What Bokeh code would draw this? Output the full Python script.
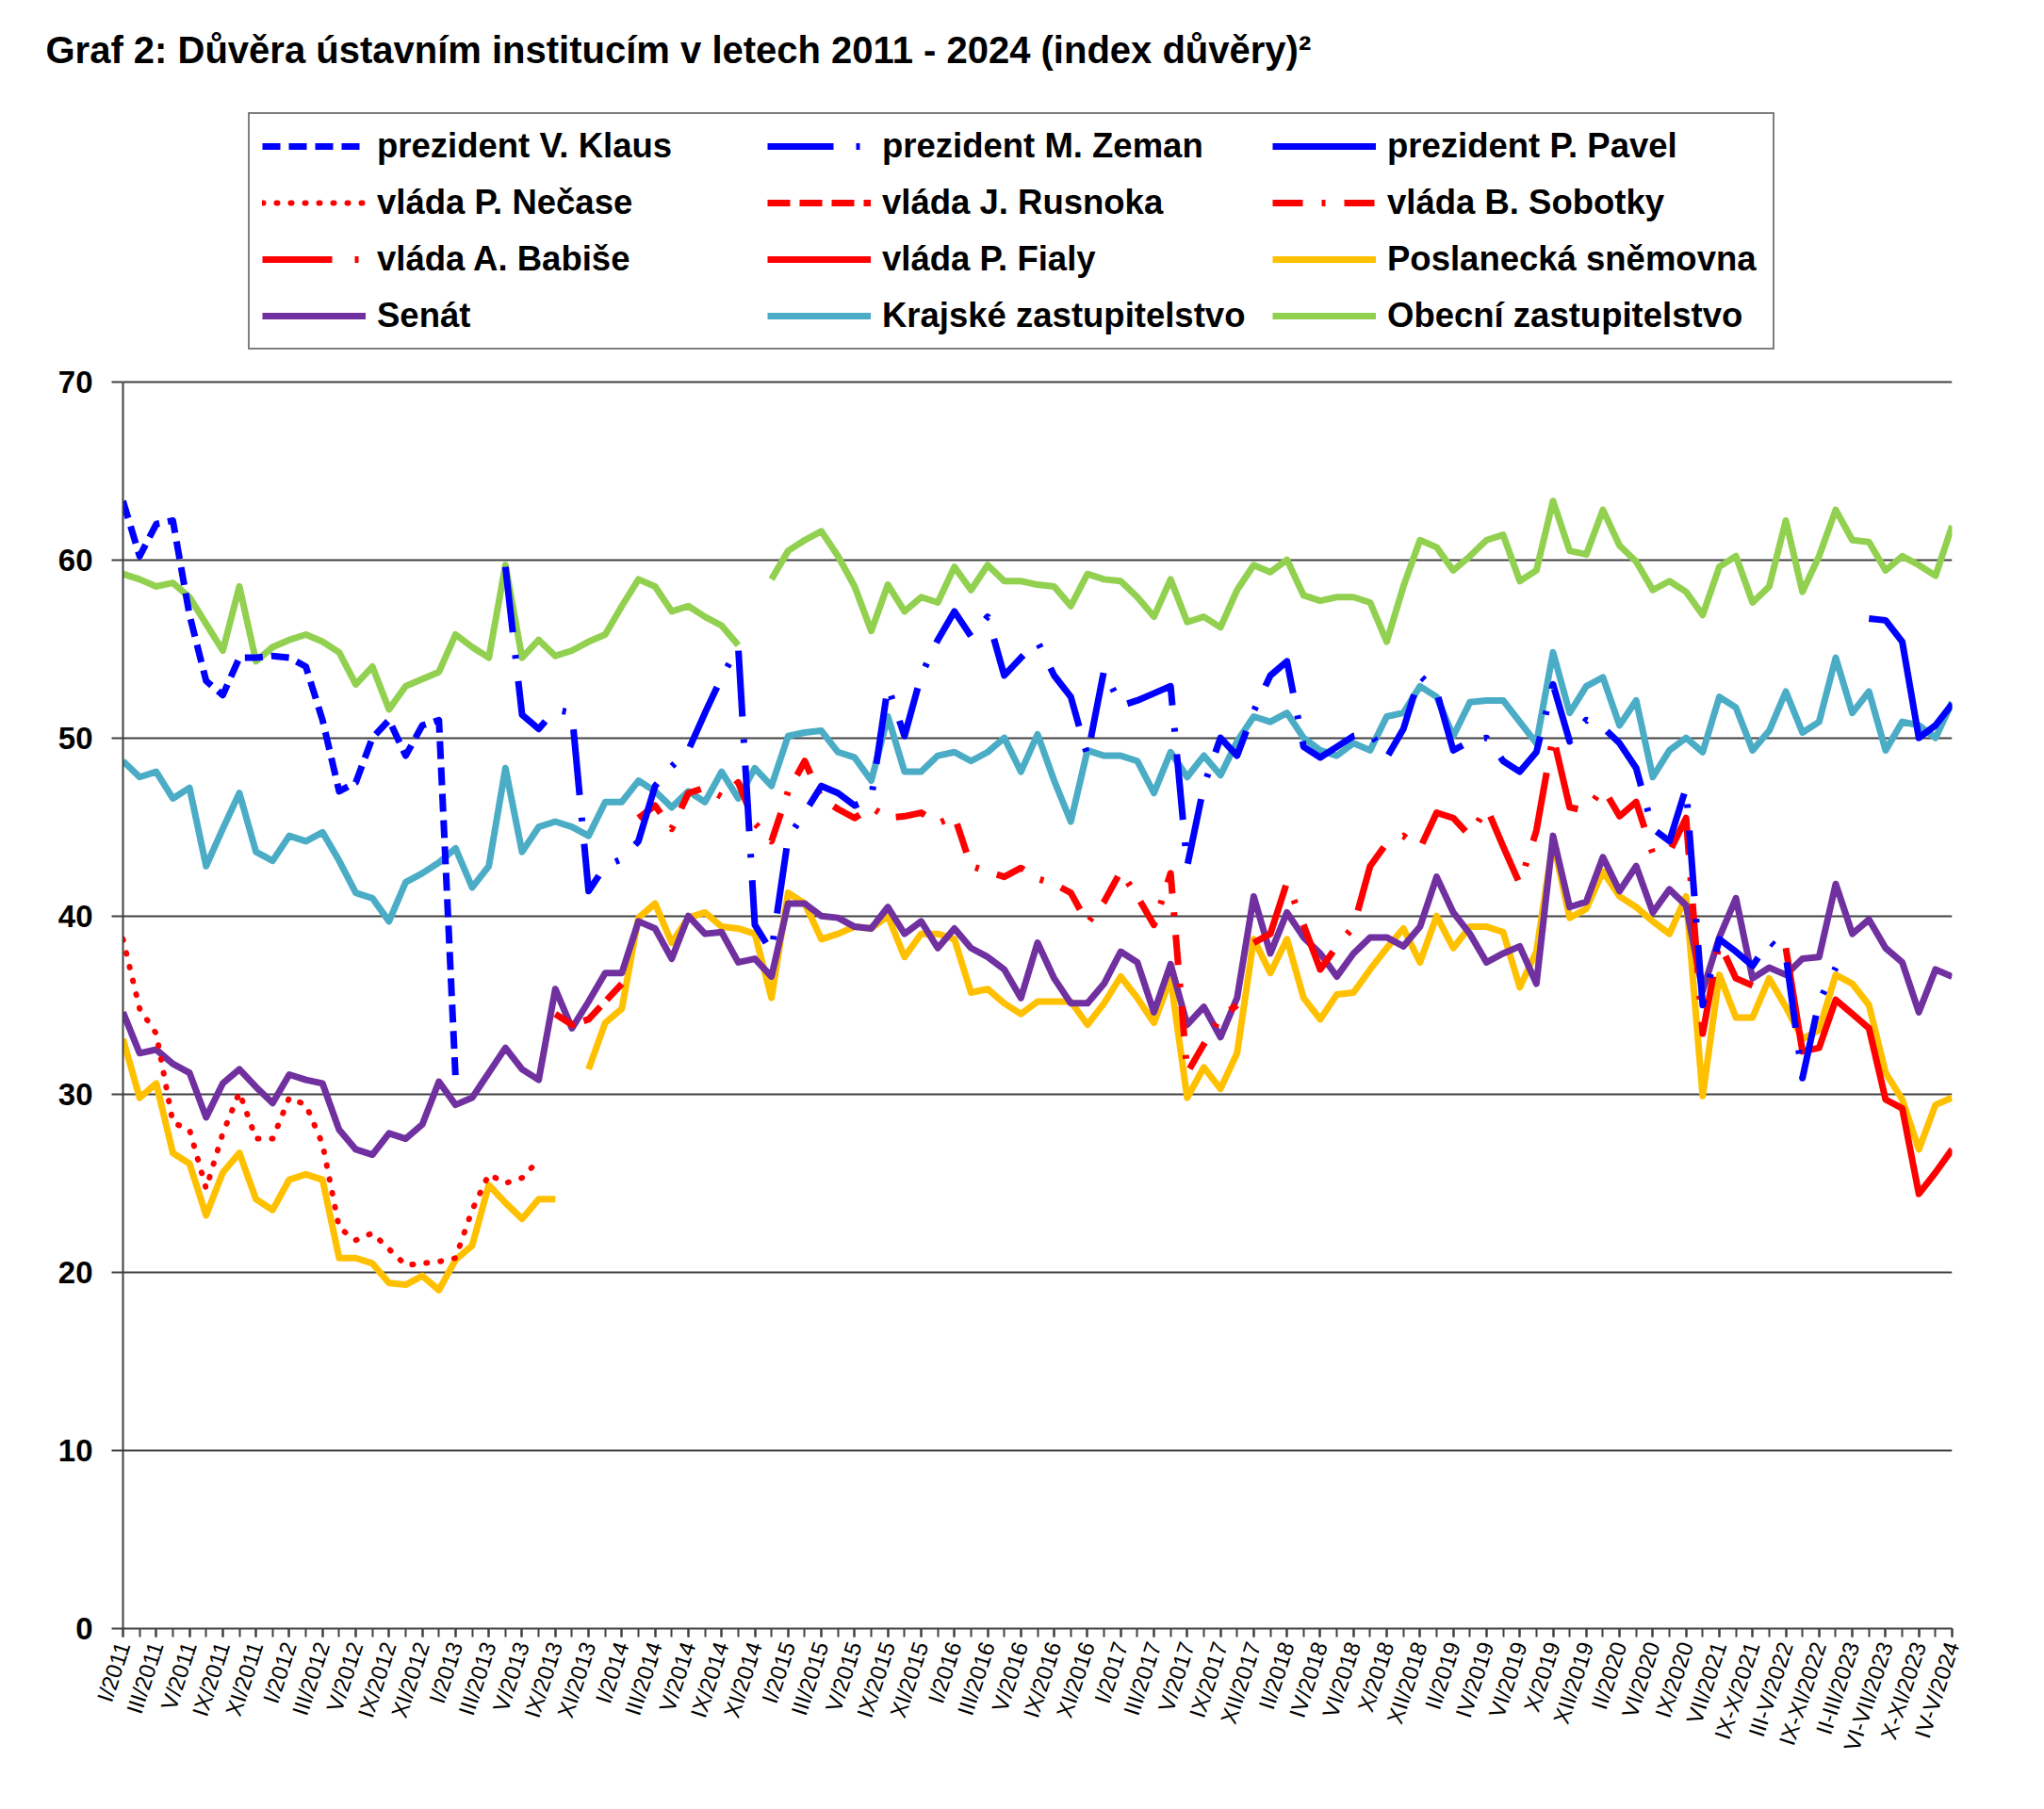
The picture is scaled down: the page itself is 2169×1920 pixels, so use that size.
import math
from bokeh.plotting import figure
from bokeh.models import Range1d, FixedTicker, Legend, LegendItem, Title
from bokeh.embed import file_html
from bokeh.resources import INLINE

NaN = float("nan")

# --- survey periods (one per category on the x axis) ---
months10 = ["I", "II", "III", "IV", "V", "VI", "IX", "X", "XI", "XII"]
periods = []
for yr in range(2011, 2017):
    periods += [f"{m}/{yr}" for m in months10]
periods += [f"{m}/2017" for m in ["I", "II", "III", "IV", "V", "VI", "IX", "X", "XII"]]
periods += [f"{m}/2018" for m in months10]
periods += [f"{m}/2019" for m in months10]
periods += ["I/2020", "II/2020", "V/2020", "VI/2020", "VIII/2020", "IX/2020",
            "V-VI/2021", "VII/2021", "VIII/2021", "IX-X/2021", "XI-XII/2021",
            "III-V/2022", "VI-VII/2022", "IX-XI/2022", "XII-I/2023", "II-III/2023",
            "IV-V/2023", "VI-VII/2023", "VIII-IX/2023", "X-XI/2023", "I-III/2024",
            "IV-V/2024"]

N = len(periods)


def series(start, values):
    """Place a run of values starting at period index `start`; other periods are empty."""
    out = [NaN] * N
    for k, v in enumerate(values):
        out[start + k] = NaN if v is None else v
    return out


# --- trust index values ---
klaus = series(0, [63.3, 60.2, 62.0, 62.2, 56.9, 53.2, 52.4, 54.5, 54.5, 54.6,
                   54.5, 54.0, 51.0, 47.0, 47.5, 50.0, 51.0, 49.0, 50.7, 51.0,
                   30.9])
zeman = series(23, [59.6, 51.3, 50.5, 51.6, 51.4, 41.4, 42.8, 43.2, 44.2, 47.3,
                    48.4, 49.3, 51.4, 53.4, 55.1, 39.5, 38.0, 44.4, 45.8, 47.3,
                    46.9, 46.2, 46.6, 52.9, 50.1, 53.5, 55.5, 57.1, 55.7, 56.8,
                    53.5, 54.5, 55.4, 53.5, 52.3, 49.0, 53.8, 51.8, 52.1, 52.5,
                    52.9, 42.8, 47.3, 50.0, 49.0, 51.5, 53.5, 54.3, 49.5, 48.9,
                    49.5, 50.1, 50.3, 48.9, 50.5, 53.5, 52.6, 49.3, 49.8, 50.0,
                    48.7, 48.1, 49.2, 53.0, 49.8, 51.0, 50.6, 49.7, 48.3, 44.9,
                    44.2, 47.2, 35.0, 38.7, 38.0, 37.2, 38.6, 37.8, 30.9, 35.2,
                    37.1])
pavel = series(105, [56.7, 56.6, 55.4, 50.0, 50.7, 51.9])

necas = series(0, [38.7, 34.8, 33.4, 28.4, 28.0, 24.7, 27.8, 30.1, 27.5, 27.5,
                   29.8, 29.4, 27.2, 22.5, 21.8, 22.2, 21.3, 20.4, 20.5, 20.6,
                   20.8, 23.5, 25.5, 25.0, 25.3, 26.3])
rusnok = series(26, [34.5, 33.9, 34.2, 35.2, 36.2])
sobotka = series(31, [45.5, 46.2, 44.9, 46.9, 47.2, 46.7, 47.5, 45.2, 44.2, 47.0,
                      48.7, 46.6, 46.0, 45.5, 46.1, 45.5, 45.6, 45.8, 45.2, 45.6,
                      42.8, 42.5, 42.2, 42.7, 42.1, 41.8, 41.3, 39.6, 40.8, 42.5,
                      41.1, 39.5, 42.4, 31.2, 32.8, 34.3, 35.0])
babis = series(68, [38.5, 39.0, 41.9, 39.5, 37.0, 38.3, 39.4, 42.8, 44.1, 44.5,
                    43.8, 45.8, 45.5, 44.5, 46.1, 43.9, 41.8, 44.8, 50.1, 46.1,
                    45.9, 47.2, 45.6, 46.4, 43.5, 43.6, 45.5, 33.4, 38.5, 36.5,
                    36.1])
fiala = series(100, [38.2, 32.4, 32.6, 35.3, 34.5, 33.7, 29.7, 29.2, 24.4, 25.6,
                     26.9])

snemovna = series(0, [33.1, 29.8, 30.6, 26.7, 26.1, 23.2, 25.6, 26.7, 24.1, 23.5,
                      25.2, 25.5, 25.2, 20.8, 20.8, 20.5, 19.4, 19.3, 19.8, 19.0,
                      20.7, 21.5, 24.9, 23.9, 23.0, 24.1, 24.1, None, 31.4, 34.0,
                      34.8, 39.9, 40.7, 38.5, 39.9, 40.2, 39.4, 39.3, 39.0, 35.4,
                      41.3, 40.7, 38.7, 39.0, 39.4, 39.3, 40.0, 37.7, 39.0, 39.0,
                      38.7, 35.7, 35.9, 35.1, 34.5, 35.2, 35.2, 35.2, 33.9, 35.1,
                      36.6, 35.4, 34.0, 36.5, 29.8, 31.5, 30.3, 32.3, 38.7, 36.8,
                      38.7, 35.4, 34.2, 35.6, 35.7, 37.0, 38.2, 39.3, 37.4, 40.0,
                      38.2, 39.4, 39.4, 39.1, 36.0, 38.0, 44.2, 39.9, 40.4, 42.5,
                      41.1, 40.5, 39.7, 39.0, 41.1, 29.9, 36.7, 34.3, 34.3, 36.5,
                      34.9, 33.1, 33.6, 36.7, 36.2, 35.0, 31.2, 29.7, 26.9, 29.4,
                      29.8])
senat = series(0, [34.6, 32.3, 32.5, 31.7, 31.2, 28.7, 30.6, 31.4, 30.4, 29.5,
                   31.1, 30.8, 30.6, 28.0, 26.9, 26.6, 27.8, 27.5, 28.3, 30.7,
                   29.4, 29.8, 31.2, 32.6, 31.4, 30.8, 35.9, 33.7, 35.2, 36.8,
                   36.8, 39.7, 39.3, 37.6, 40.0, 39.0, 39.1, 37.4, 37.6, 36.6,
                   40.7, 40.7, 40.0, 39.9, 39.4, 39.3, 40.5, 39.0, 39.7, 38.2,
                   39.3, 38.2, 37.7, 37.0, 35.4, 38.5, 36.5, 35.1, 35.1, 36.2,
                   38.0, 37.4, 34.6, 37.3, 33.9, 34.9, 33.2, 35.4, 41.1, 37.9,
                   40.2, 38.8, 37.9, 36.6, 37.9, 38.8, 38.8, 38.3, 39.4, 42.2,
                   40.2, 39.0, 37.4, 37.9, 38.3, 36.2, 44.5, 40.5, 40.8, 43.3,
                   41.4, 42.8, 40.2, 41.5, 40.6, 35.8, 38.8, 41.0, 36.5, 37.1,
                   36.7, 37.6, 37.7, 41.8, 39.0, 39.8, 38.2, 37.4, 34.6, 37.0,
                   36.6])
krajske = series(0, [48.7, 47.8, 48.1, 46.6, 47.2, 42.8, 44.9, 46.9, 43.6, 43.1,
                     44.5, 44.2, 44.7, 43.1, 41.3, 41.0, 39.7, 41.9, 42.4, 43.0,
                     43.8, 41.6, 42.8, 48.3, 43.6, 45.0, 45.3, 45.0, 44.5, 46.4,
                     46.4, 47.6, 47.0, 46.1, 47.0, 46.4, 48.1, 46.6, 48.3, 47.3,
                     50.1, 50.3, 50.4, 49.2, 48.9, 47.6, 51.2, 48.1, 48.1, 49.0,
                     49.2, 48.7, 49.2, 50.0, 48.1, 50.2, 47.6, 45.3, 49.3, 49.0,
                     49.0, 48.7, 46.9, 49.2, 47.8, 49.0, 47.9, 49.8, 51.2, 50.9,
                     51.4, 50.0, 49.3, 49.0, 49.7, 49.3, 51.2, 51.4, 52.9, 52.3,
                     50.1, 52.0, 52.1, 52.1, 50.9, 49.7, 54.8, 51.4, 52.9, 53.4,
                     50.7, 52.1, 47.8, 49.3, 50.0, 49.2, 52.3, 51.7, 49.3, 50.4,
                     52.6, 50.3, 50.9, 54.5, 51.4, 52.6, 49.3, 50.9, 50.7, 50.0,
                     52.0])
obecni = series(0, [59.2, 58.9, 58.5, 58.7, 57.9, 56.4, 54.9, 58.5, 54.3, 55.1,
                    55.5, 55.8, 55.4, 54.8, 53.0, 54.0, 51.6, 52.9, 53.3, 53.7,
                    55.8, 55.1, 54.5, 59.7, 54.5, 55.5, 54.6, 54.9, 55.4, 55.8,
                    57.4, 58.9, 58.5, 57.1, 57.4, 56.8, 56.3, 55.2, None, 58.9,
                    60.5, 61.1, 61.6, 60.2, 58.5, 56.0, 58.6, 57.1, 57.9, 57.6,
                    59.6, 58.3, 59.7, 58.8, 58.8, 58.6, 58.5, 57.4, 59.2, 58.9,
                    58.8, 57.9, 56.8, 58.9, 56.5, 56.8, 56.2, 58.3, 59.7, 59.3,
                    60.0, 58.0, 57.7, 57.9, 57.9, 57.6, 55.4, 58.5, 61.1, 60.7,
                    59.4, 60.2, 61.1, 61.4, 58.8, 59.4, 63.3, 60.5, 60.3, 62.8,
                    60.8, 59.9, 58.3, 58.8, 58.2, 56.9, 59.6, 60.2, 57.6, 58.5,
                    62.2, 58.2, 60.2, 62.8, 61.1, 61.0, 59.4, 60.2, 59.7, 59.1,
                    61.9])

x = list(range(N))

BLUE, RED = "#0000FF", "#FF0000"
FONT = "Liberation Sans"

# The value axis runs 0..70; the frame continues above 70 to hold the legend box.
Y_AXIS_TOP = 70
Y_FRAME_TOP = 86
PX_PER_UNIT = 18.914
FRAME_BOTTOM = 1728
frame_top = FRAME_BOTTOM - Y_FRAME_TOP * PX_PER_UNIT

p = figure(width=2169, height=1920, output_backend="svg", toolbar_location=None,
           x_range=Range1d(0, N - 1), y_range=Range1d(0, Y_FRAME_TOP),
           min_border_left=130, min_border_right=98,
           min_border_top=int(round(frame_top)), min_border_bottom=1920 - FRAME_BOTTOM,
           background_fill_color="white", border_fill_color="white")
p.outline_line_color = None

# axes
p.xaxis.ticker = FixedTicker(ticks=list(range(0, N, 2)), minor_ticks=list(range(N)))
p.xaxis.major_label_overrides = {i: periods[i] for i in range(0, N, 2)}
p.xaxis.major_label_orientation = math.radians(72)
p.xaxis.major_label_text_font = FONT
p.xaxis.major_label_text_font_size = "24px"
p.xaxis.major_label_text_color = "black"
p.xaxis.major_label_standoff = 6
p.xaxis.axis_line_color = "#404040"
p.xaxis.axis_line_width = 2
p.xaxis.major_tick_out = 9
p.xaxis.major_tick_in = 0
p.xaxis.minor_tick_out = 9
p.xaxis.minor_tick_in = 0
p.xaxis.major_tick_line_color = "#404040"
p.xaxis.minor_tick_line_color = "#404040"
p.xaxis.major_tick_line_width = 2
p.xaxis.minor_tick_line_width = 2

p.yaxis.ticker = FixedTicker(ticks=list(range(0, Y_AXIS_TOP + 1, 10)))
p.yaxis.bounds = (0, Y_AXIS_TOP)
p.yaxis.major_label_text_font = FONT
p.yaxis.major_label_text_font_style = "bold"
p.yaxis.major_label_text_font_size = "33px"
p.yaxis.major_label_text_color = "black"
p.yaxis.axis_line_color = "#404040"
p.yaxis.axis_line_width = 2
p.yaxis.major_tick_out = 12
p.yaxis.major_tick_in = 0
p.yaxis.major_tick_line_color = "#404040"
p.yaxis.major_tick_line_width = 2
p.yaxis.minor_tick_line_color = None
p.yaxis.major_label_standoff = 20

p.xgrid.visible = False
p.ygrid.ticker = FixedTicker(ticks=list(range(10, Y_AXIS_TOP + 1, 10)))
p.ygrid.grid_line_color = "#404040"
p.ygrid.grid_line_width = 2

LW = 7
styles = [
    ("prezident V. Klaus", klaus, dict(line_color=BLUE, line_width=LW, line_dash="19 9")),
    ("prezident M. Zeman", zeman, dict(line_color=BLUE, line_width=LW, line_dash="70 24 4 24")),
    ("prezident P. Pavel", pavel, dict(line_color=BLUE, line_width=LW)),
    ("vláda P. Nečase", necas, dict(line_color=RED, line_width=6, line_dash="1 14", line_cap="round")),
    ("vláda J. Rusnoka", rusnok, dict(line_color=RED, line_width=LW, line_dash="24 10")),
    ("vláda B. Sobotky", sobotka, dict(line_color=RED, line_width=LW, line_dash="32 20 4 20")),
    ("vláda A. Babiše", babis, dict(line_color=RED, line_width=LW, line_dash="74 24 4 24")),
    ("vláda P. Fialy", fiala, dict(line_color=RED, line_width=LW)),
    ("Poslanecká sněmovna", snemovna, dict(line_color="#FFC000", line_width=LW)),
    ("Senát", senat, dict(line_color="#7030A0", line_width=LW)),
    ("Krajské zastupitelstvo", krajske, dict(line_color="#4BACC6", line_width=LW)),
    ("Obecní zastupitelstvo", obecni, dict(line_color="#92D050", line_width=LW)),
]

# draw order: institutions underneath, presidents and governments on top
renderers = {}
draw_order = ["Obecní zastupitelstvo", "Krajské zastupitelstvo", "Poslanecká sněmovna", "Senát",
              "vláda P. Nečase", "vláda J. Rusnoka", "vláda B. Sobotky", "vláda A. Babiše",
              "vláda P. Fialy", "prezident V. Klaus", "prezident M. Zeman", "prezident P. Pavel"]
style_map = {name: (vals, kw) for name, vals, kw in styles}
for name in draw_order:
    vals, kw = style_map[name]
    renderers[name] = p.line(x, vals, line_join="round", **kw)

# legend box sits in the upper part of the frame, above the 70 gridline
legend = Legend(items=[LegendItem(label=name, renderers=[renderers[name]]) for name, _, _ in styles],
                orientation="horizontal", ncols=3,
                location=(133, FRAME_BOTTOM - 371))
legend.label_text_font = FONT
legend.label_text_font_style = "bold"
legend.label_text_font_size = "36.5px"
legend.label_text_color = "black"
legend.glyph_width = 110
legend.glyph_height = 40
legend.label_height = 40
legend.label_width = 396
legend.label_standoff = 12
legend.spacing = 18
legend.padding = 13
legend.margin = 0
legend.border_line_color = "black"
legend.border_line_width = 2
legend.background_fill_color = "white"
legend.background_fill_alpha = 1
p.add_layout(legend, "center")

title = Title(text="Graf 2: Důvěra ústavním institucím v letech 2011 - 2024 (index důvěry)²",
              text_font=FONT, text_font_style="bold", text_font_size="40px",
              text_color="black", align="left", offset=-82, standoff=56)
p.add_layout(title, "above")

open("out.html", "w").write(file_html(p, INLINE))
